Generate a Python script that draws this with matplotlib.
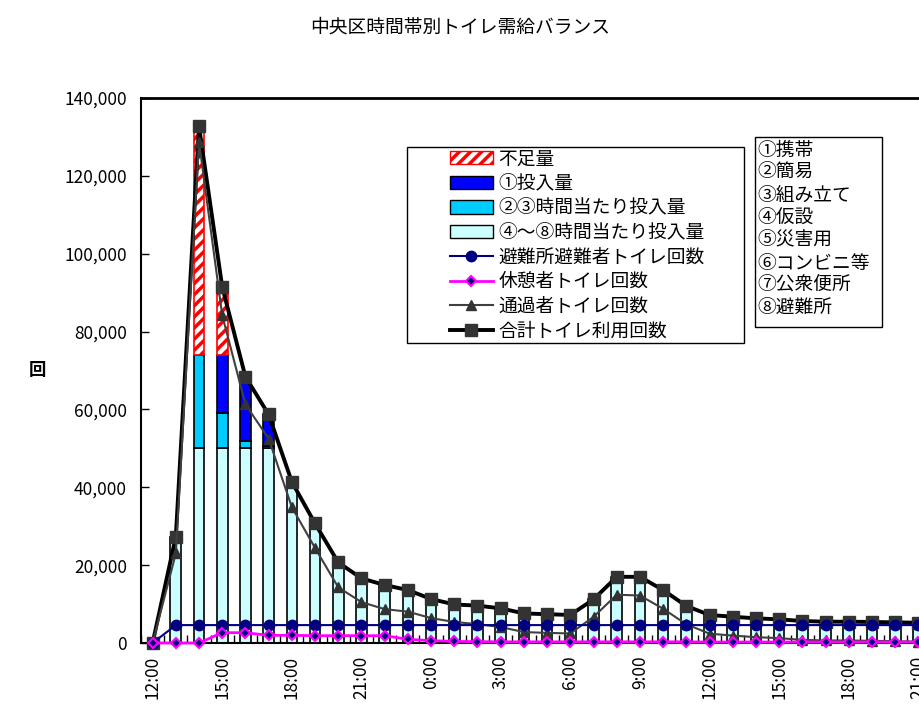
import numpy as np
import matplotlib
matplotlib.use("Agg")
import matplotlib.pyplot as plt
from matplotlib.patches import Rectangle, Patch
from matplotlib.lines import Line2D
from matplotlib.ticker import FuncFormatter

plt.rcParams['font.family'] = ['Noto Sans CJK JP', 'DejaVu Sans']
plt.rcParams['hatch.linewidth'] = 2.5

# hourly categories, 12:00 day 1 -> 21:00 day 2
times = [f"{(12 + i) % 24}:00" for i in range(34)]

# demand side (lines)
total = [0, 27300, 132700, 91500, 68400, 58700, 41400, 30700, 20700, 16600,
         14900, 13600, 11300, 9900, 9600, 8900, 7600, 7400, 7200, 11200,
         17000, 17000, 13600, 9500, 7200, 6750, 6330, 6080, 5650, 5470,
         5470, 5400, 5300, 5200]
evacuee = [0] + [4600] * 33
rest = [0, 0, 0, 2650, 2650, 1970, 1970, 1880, 1880, 1880,
        1880, 950, 600, 400, 350, 300, 300, 300, 300, 300,
        300, 300, 300, 300, 250, 250, 250, 250, 250, 250,
        250, 250, 250, 250]
passing = [0, 23000, 128700, 84200, 61300, 52500, 34900, 24400, 14300, 10500,
           8700, 8050, 6400, 5400, 4850, 4100, 2800, 2600, 2450, 6700,
           12400, 12200, 8800, 4800, 2400, 1900, 1500, 1250, 800, 650,
           650, 550, 450, 350]

# supply side (stacked bars)
supply_48 = [0, 27300, 50000, 50000, 50000, 50000, 41400, 30700, 20700, 16600,
             14900, 13600, 11300, 9900, 9600, 8900, 7600, 7400, 7200, 11200,
             17000, 17000, 13600, 9500, 7200, 6750, 6330, 6080, 5650, 5470,
             5470, 5400, 5300, 5200]
supply_23 = [0, 0, 23900, 9100, 1900, 600] + [0] * 28
supply_1 = [0, 0, 0, 14800, 16500, 8100] + [0] * 28
shortage = [0, 0, 58800, 17600] + [0] * 30

fig = plt.figure(figsize=(9.2, 7.13), dpi=100)
ax = fig.add_axes([141 / 920, 70 / 713, 789 / 920, 545 / 713])

x = np.arange(len(times))
w = 0.46
b0 = np.array(supply_48)
b1 = b0 + np.array(supply_23)
b2 = b1 + np.array(supply_1)


def stacked(vals, bottom, **kw):
    vals = np.array(vals)
    m = vals > 0
    ax.bar(x[m], vals[m], w, bottom=bottom[m], zorder=2, **kw)


stacked(supply_48, np.zeros(len(x)), color='#CCFFFF', edgecolor='black', lw=1.2)
stacked(supply_23, b0, color='#00CCFF', edgecolor='black', lw=1.2)
stacked(supply_1, b1, color='#0000FF', edgecolor='black', lw=1.2)
stacked(shortage, b2, color='white', edgecolor='red', lw=1.2, hatch='///')

ax.plot(x, total, color='black', lw=2.8, marker='s', ms=8.5,
        mfc='#333333', mec='#333333', zorder=3, clip_on=False)
ax.plot(x, passing, color='#404040', lw=1.5, marker='^', ms=7.5,
        mfc='#333333', mec='#333333', zorder=4, clip_on=False)
ax.plot(x, evacuee, color='#000080', lw=1.5, marker='o', ms=7.5,
        mfc='#000080', mec='#000080', zorder=5, clip_on=False)
ax.plot(x, rest, color='#FF00FF', lw=2, marker='D', ms=5,
        mfc='#000080', mec='#FF00FF', mew=1.5, zorder=6, clip_on=False)

ax.set_xlim(-0.5, len(x) - 0.5)
ax.set_ylim(0, 140000)
ax.set_yticks(np.arange(0, 140001, 20000))
ax.yaxis.set_major_formatter(FuncFormatter(lambda v, p: f"{int(v):,}"))
ax.tick_params(axis='y', direction='in', length=6, width=1, labelsize=12.5, pad=10)

ax.set_xticks(x[::3])
ax.set_xticklabels(times[::3], rotation=90, fontsize=12.5)
ax.set_xticks(np.arange(-0.5, len(x), 1), minor=True)
ax.tick_params(axis='x', which='major', length=0, pad=9)
ax.tick_params(axis='x', which='minor', direction='in', length=6, width=1)

ax.spines['right'].set_visible(False)
ax.spines['top'].set_linewidth(2)
ax.spines['left'].set_linewidth(1.5)
ax.spines['bottom'].set_linewidth(1.5)

fig.text(0.5, 1 - 27 / 713, '中央区時間帯別トイレ需給バランス',
         ha='center', va='center', fontsize=13.5)
fig.text(37 / 920, 1 - 370 / 713, '回', ha='center', va='center',
         fontsize=12.5, fontweight='bold')

# legend
handles = [
    Patch(facecolor='white', edgecolor='red', hatch='///'),
    Patch(facecolor='#0000FF', edgecolor='black'),
    Patch(facecolor='#00CCFF', edgecolor='black'),
    Patch(facecolor='#CCFFFF', edgecolor='black'),
    Line2D([], [], color='#000080', lw=1.5, marker='o', ms=7.5, mfc='#000080', mec='#000080'),
    Line2D([], [], color='#FF00FF', lw=2, marker='D', ms=5, mfc='#000080', mec='#FF00FF', mew=1.5),
    Line2D([], [], color='#404040', lw=1.5, marker='^', ms=7.5, mfc='#333333', mec='#333333'),
    Line2D([], [], color='black', lw=2.8, marker='s', ms=8.5, mfc='#333333', mec='#333333'),
]
labels = ['不足量', '①投入量', '②③時間当たり投入量', '④～⑧時間当たり投入量',
          '避難所避難者トイレ回数', '休憩者トイレ回数', '通過者トイレ回数', '合計トイレ利用回数']
ax.add_patch(Rectangle(((407 - 141) / 789, (643 - 343) / 545), (744 - 407) / 789,
                       (343 - 147) / 545, transform=ax.transAxes, facecolor='white',
                       edgecolor='black', lw=1, zorder=7, clip_on=False))
leg = ax.legend(handles, labels, loc='upper left', frameon=False, fontsize=13.5,
                bbox_to_anchor=((441 - 141) / 789, (643 - 139) / 545),
                handlelength=2.25, handletextpad=0.3, labelspacing=0.19, borderpad=0)
leg.set_zorder(8)

# key for toilet types
fig.add_artist(Rectangle((755 / 920, 1 - 327 / 713), (882 - 755) / 920, (327 - 137) / 713,
                         transform=fig.transFigure, facecolor='white', edgecolor='black', lw=1))
kinds = ['①携帯', '②簡易', '③組み立て', '④仮設', '⑤災害用', '⑥コンビニ等', '⑦公衆便所', '⑧避難所']
for k, s in enumerate(kinds):
    fig.text(757 / 920, 1 - (150 + k * 22.6) / 713, s, ha='left', va='center', fontsize=13.5)

fig.savefig('out.png', dpi=100)
